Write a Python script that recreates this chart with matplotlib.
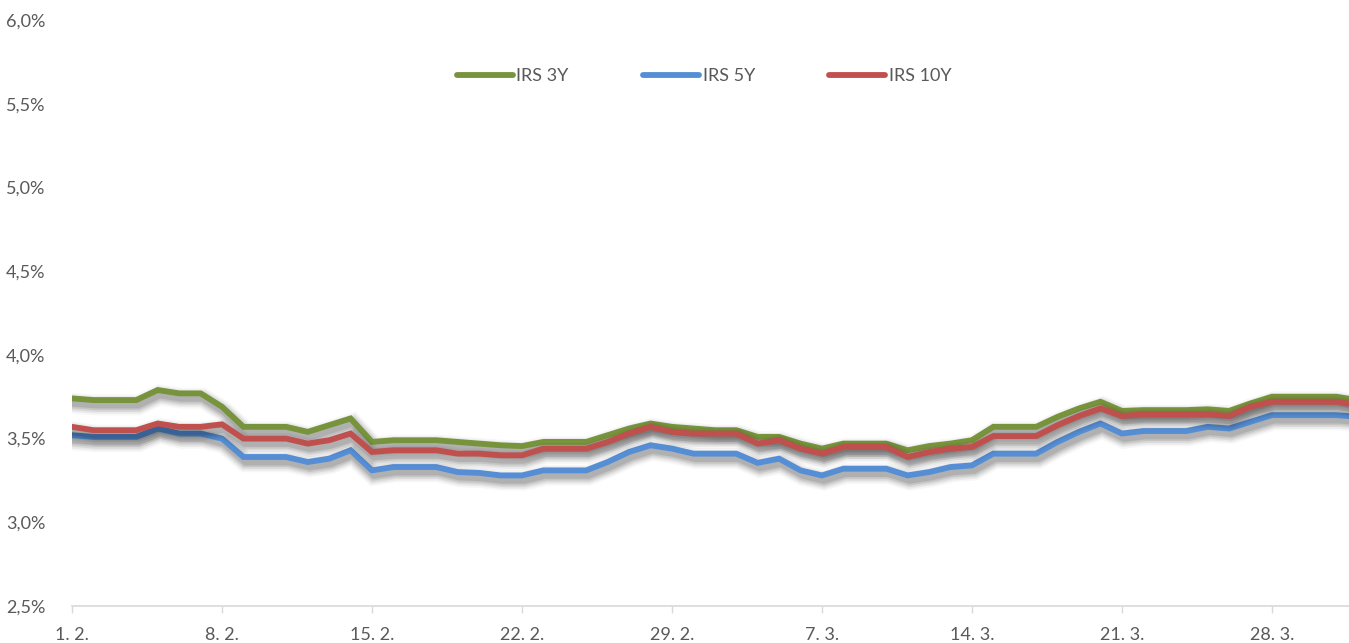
import numpy as np
import pandas as pd
import matplotlib
matplotlib.use("Agg")
from matplotlib import pyplot as plt
import matplotlib.patheffects as pe

dates = pd.date_range("2024-02-01", "2024-04-01", freq="D")

irs_3y = [3.74, 3.73, 3.73, 3.73, 3.79, 3.77, 3.77, 3.69, 3.57, 3.57,
          3.57, 3.54, 3.58, 3.62, 3.48, 3.49, 3.49, 3.49, 3.48, 3.47,
          3.46, 3.455, 3.48, 3.48, 3.48, 3.52, 3.56, 3.59, 3.57, 3.56,
          3.55, 3.55, 3.51, 3.51, 3.47, 3.44, 3.47, 3.47, 3.47, 3.43,
          3.455, 3.47, 3.49, 3.57, 3.57, 3.57, 3.63, 3.68, 3.72, 3.665,
          3.67, 3.67, 3.67, 3.675, 3.665, 3.71, 3.75, 3.75, 3.75, 3.75, 3.73]

irs_5y = [3.52, 3.51, 3.51, 3.51, 3.56, 3.53, 3.53, 3.50, 3.39, 3.39,
          3.39, 3.36, 3.38, 3.43, 3.31, 3.33, 3.33, 3.33, 3.30, 3.295,
          3.28, 3.28, 3.31, 3.31, 3.31, 3.36, 3.42, 3.46, 3.44, 3.41,
          3.41, 3.41, 3.355, 3.38, 3.31, 3.28, 3.32, 3.32, 3.32, 3.28,
          3.30, 3.33, 3.34, 3.41, 3.41, 3.41, 3.48, 3.54, 3.59, 3.53,
          3.545, 3.545, 3.545, 3.57, 3.56, 3.60, 3.64, 3.64, 3.64, 3.64, 3.63]

irs_10y = [3.57, 3.55, 3.55, 3.55, 3.59, 3.57, 3.57, 3.585, 3.50, 3.50,
           3.50, 3.47, 3.49, 3.53, 3.42, 3.43, 3.43, 3.43, 3.41, 3.41,
           3.40, 3.40, 3.44, 3.44, 3.44, 3.48, 3.53, 3.57, 3.54, 3.53,
           3.53, 3.53, 3.47, 3.49, 3.44, 3.41, 3.45, 3.45, 3.45, 3.39,
           3.42, 3.44, 3.45, 3.515, 3.515, 3.515, 3.58, 3.635, 3.68, 3.635,
           3.645, 3.645, 3.645, 3.645, 3.635, 3.69, 3.72, 3.72, 3.72, 3.72, 3.70]

series_names = ["IRS 3Y", "IRS 5Y", "IRS 10Y"]
series_colors = ["#77933C", "#558ED5", "#C0504D"]
tick_labels = ["1. 2.", "8. 2.", "15. 2.", "22. 2.", "29. 2.",
               "7. 3.", "14. 3.", "21. 3.", "28. 3."]
y_ticks = [2.5, 3.0, 3.5, 4.0, 4.5, 5.0, 5.5, 6.0]

plt.rcParams['font.family'] = ['Lato', 'DejaVu Sans']

fig = plt.figure(figsize=(13.49, 6.43), dpi=100)
ax = fig.add_axes([72 / 1349, 37 / 643, 1277 / 1349, 586 / 643])

x = np.arange(len(dates))
# weiche Schatten wie in Excel
shadow = [pe.SimpleLineShadow(offset=(1.5, -3.5), shadow_color="black", alpha=a, linewidth=w)
          for w, a in [(15, 0.03), (12.5, 0.05), (10, 0.07), (7.5, 0.09), (5, 0.10)]]
shadow.append(pe.Normal())

for vals, name, col in zip([irs_3y, irs_5y, irs_10y], series_names, series_colors):
    ax.plot(x, vals, color=col, lw=4.2, label=name, solid_joinstyle="miter",
            path_effects=shadow)

ax.set_xlim(0, 59.6)
ax.set_ylim(2.5, 6.0)
ax.set_yticks(y_ticks)
ax.set_yticklabels([f"{v:.1f}%".replace(".", ",") for v in y_ticks])
ax.set_xticks(x[::7][:len(tick_labels)])
ax.set_xticklabels(tick_labels)

for s in ["top", "right", "left"]:
    ax.spines[s].set_visible(False)
ax.spines["bottom"].set_color("#d9d9d9")
ax.spines["bottom"].set_linewidth(1.2)
ax.tick_params(axis="y", length=0, pad=19, labelsize=13, labelcolor="#595959")
ax.tick_params(axis="x", length=5, color="#d9d9d9", width=1, pad=10,
               labelsize=13, labelcolor="#595959")

leg = fig.legend(loc="center", bbox_to_anchor=(0.522, 0.882), ncol=3,
                 frameon=False, handlelength=3.1, handletextpad=0.22,
                 columnspacing=4.1, fontsize=13)
for t in leg.get_texts():
    t.set_color("#595959")
for h in leg.get_lines():
    h.set_path_effects([])
    h.set_linewidth(4.2)
    h.set_solid_capstyle("round")

fig.savefig("out.png", dpi=100)
